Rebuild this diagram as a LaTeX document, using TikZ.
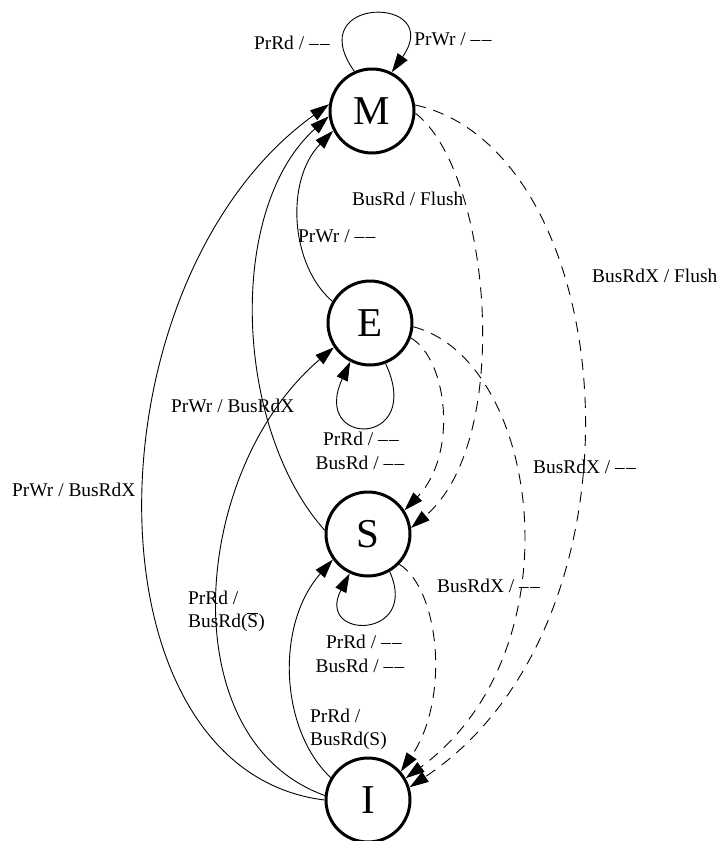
\documentclass[tikz,border=0pt]{standalone}
\usepackage{fontspec}
\setmainfont{Liberation Serif}
\usetikzlibrary{arrows.meta}
\newcommand\twodash{\textendash\kern1.5pt\textendash}
\begin{document}
\begin{tikzpicture}[x=1pt,y=-1pt,
  state/.style={circle,draw,line width=3pt,minimum size=84pt,inner sep=0pt,font=\fontsize{41}{41}\selectfont},
  tr/.style={line width=0.9pt,-{Triangle[length=19pt,width=12pt]}},
  bus/.style={tr,dash pattern=on 11pt off 8pt},
  lbl/.style={inner sep=0pt,font=\fontsize{19.4}{24}\selectfont}]
\useasboundingbox (0,0) rectangle (718,841);
\node[state] (M) at (372,111) {M};
\node[state] (E) at (370,323) {E};
\node[state] (S) at (368,534) {S};
\node[state] (I) at (368,800) {I};
% processor transitions
\draw[tr] (M.114) .. controls (300,-5) and (446,-5) .. (M.63);
\draw[tr] (E.150) .. controls (290,265) and (285,180) .. (M.207);
\draw[tr] (S.175) .. controls (235,430) and (225,210) .. (M.187);
\draw[tr] (I.180) .. controls (80,770) and (85,280) .. (M.171);
\draw[tr] (I.174) .. controls (170,740) and (190,470) .. (E.214);
\draw[tr] (I.149) .. controls (280,730) and (275,625) .. (S.216);
\draw[tr] (E.291) .. controls (425,448) and (310,448) .. (E.243);
\draw[tr] (S.300) .. controls (420,640) and (315,640) .. (S.245);
% bus transitions
\draw[bus] (M.-3) .. controls (490,170) and (515,440) .. (S.8);
\draw[bus] (M.8) .. controls (620,150) and (660,620) .. (I.17);
\draw[bus] (E.-20) .. controls (448,360) and (458,455) .. (S.33);
\draw[bus] (E.-5) .. controls (540,360) and (580,650) .. (I.30);
\draw[bus] (S.-44) .. controls (440,590) and (450,700) .. (I.41);
% labels
\node[lbl,anchor=base] (l1) at (292,49) {PrRd / \twodash};
\node[lbl,anchor=base] (l2) at (453,45) {PrWr / \twodash};
\node[lbl,anchor=base west] (l3) at (298,242) {PrWr / \twodash};
\node[lbl,anchor=base west] (l4) at (352,205) {BusRd / Flush};
\node[lbl,anchor=base west] (l5) at (592,282) {BusRdX / Flush};
\node[lbl,anchor=base west] (l6) at (171,412) {PrWr / BusRdX};
\node[lbl,anchor=base west] (l7) at (12,496) {PrWr / BusRdX};
\node[lbl,anchor=base] (l8a) at (361,445) {PrRd / \twodash};
\node[lbl,anchor=base] (l8b) at (360,469) {BusRd / \twodash};
\node[lbl,anchor=base] (l9a) at (364,648) {PrRd / \twodash};
\node[lbl,anchor=base] (l9b) at (360,672) {BusRd / \twodash};
\node[lbl,anchor=base west] (l10a) at (188,604) {PrRd /};
\node[lbl,anchor=base west] (l10b) at (188,627) {BusRd(\mbox{$\overline{\hbox{S}}$})};
\node[lbl,anchor=base west] (l11a) at (310,722) {PrRd /};
\node[lbl,anchor=base west] (l11b) at (310,745) {BusRd(S)};
\node[lbl,anchor=base west] (l12) at (533,473) {BusRdX / \twodash};
\node[lbl,anchor=base west] (l13) at (437,592) {BusRdX / \twodash};
\end{tikzpicture}
\end{document}
